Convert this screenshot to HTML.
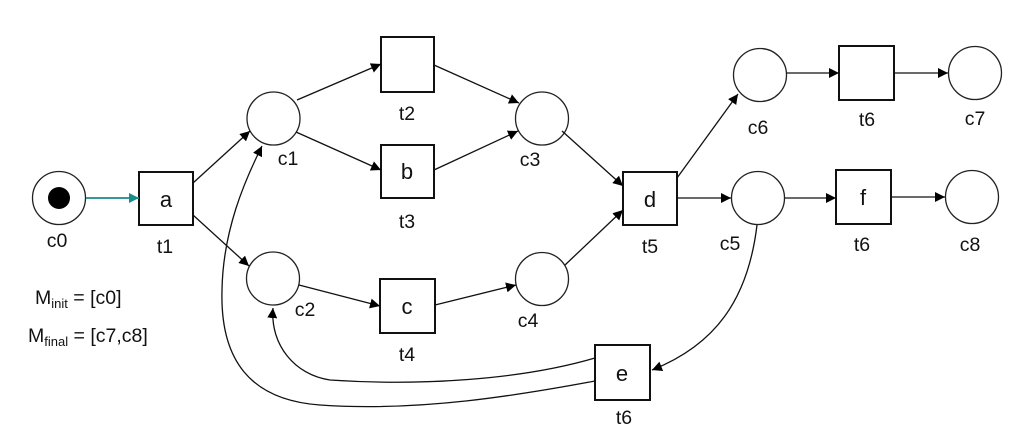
<!DOCTYPE html>
<html><head><meta charset="utf-8"><style>html,body{margin:0;padding:0;background:#fff}svg{display:block}</style></head><body>
<svg width="1017" height="428" viewBox="0 0 1017 428" xmlns="http://www.w3.org/2000/svg" font-family="Liberation Sans, sans-serif">
<defs>
<marker id="ar" viewBox="0 0 10 10" refX="10" refY="5" markerWidth="10" markerHeight="10" markerUnits="userSpaceOnUse" orient="auto"><path d="M0,0 L10,5 L0,10 z" fill="#000"/></marker>
<marker id="at" viewBox="0 0 10 10" refX="10" refY="5" markerWidth="10" markerHeight="10" markerUnits="userSpaceOnUse" orient="auto"><path d="M0,0 L10,5 L0,10 z" fill="#1a8a8a"/></marker>
</defs>
<g fill="#fff" stroke="#222" stroke-width="1.3">
<circle cx="59" cy="198" r="26.5"/>
<circle cx="273.5" cy="118.5" r="26.5"/>
<circle cx="273" cy="278.5" r="26.5"/>
<circle cx="542" cy="118.5" r="26.5"/>
<circle cx="542" cy="279" r="26.5"/>
<circle cx="760" cy="75" r="26.5"/>
<circle cx="758" cy="198" r="26.5"/>
<circle cx="975" cy="73" r="26.5"/>
<circle cx="972" cy="197" r="26.5"/>
</g>
<circle cx="59" cy="198" r="11" fill="#000"/>
<g fill="#fff" stroke="#111" stroke-width="2">
<rect x="139" y="172" width="54" height="53"/>
<rect x="381" y="37" width="53" height="55"/>
<rect x="381" y="145" width="53" height="53"/>
<rect x="380" y="279" width="55" height="54"/>
<rect x="623" y="172" width="54" height="53"/>
<rect x="839" y="46" width="55" height="54"/>
<rect x="836" y="170" width="55" height="54"/>
<rect x="595" y="345" width="55" height="55"/>
</g>
<line x1="86" y1="198" x2="139" y2="198" stroke="#1a8a8a" stroke-width="1.8" marker-end="url(#at)"/>
<g stroke="#111" stroke-width="1.3" fill="none" marker-end="url(#ar)">
<line x1="193" y1="183" x2="250" y2="131"/>
<line x1="193" y1="215" x2="249" y2="266"/>
<line x1="297" y1="100" x2="381" y2="64"/>
<line x1="296" y1="132" x2="381" y2="170"/>
<line x1="434" y1="65" x2="519" y2="103"/>
<line x1="434" y1="170" x2="518" y2="131"/>
<line x1="299" y1="285" x2="380" y2="306"/>
<line x1="435" y1="305" x2="516" y2="285"/>
<line x1="562" y1="131" x2="623" y2="186"/>
<line x1="565" y1="265" x2="623" y2="210"/>
<line x1="677" y1="178" x2="738" y2="94"/>
<line x1="677" y1="198" x2="731" y2="198"/>
<line x1="787" y1="73" x2="839" y2="73"/>
<line x1="894" y1="73" x2="948" y2="73"/>
<line x1="785" y1="198" x2="836" y2="198"/>
<line x1="891" y1="197" x2="945" y2="197"/>
<path d="M757,225 C748,300 715,345 652,370"/>
<path d="M595,358 C520,380 420,386 330,380 C295,375 270,345 273,308"/>
<path d="M595,381 C520,395 420,412 320,405 C250,400 220,360 222,290 C223,230 245,180 262,146"/>
</g>
<g font-size="22" fill="#111" text-anchor="middle">
<text x="166" y="207">a</text>
<text x="407" y="179">b</text>
<text x="407" y="314">c</text>
<text x="650" y="207">d</text>
<text x="863" y="205">f</text>
<text x="622" y="381">e</text>
</g>
<g font-size="19.5" fill="#111" text-anchor="middle">
<text x="57" y="247">c0</text>
<text x="165" y="253">t1</text>
<text x="288" y="165">c1</text>
<text x="305" y="316">c2</text>
<text x="530" y="166">c3</text>
<text x="528" y="327">c4</text>
<text x="407" y="120">t2</text>
<text x="407" y="228">t3</text>
<text x="407" y="361">t4</text>
<text x="650" y="253">t5</text>
<text x="758" y="134">c6</text>
<text x="867" y="126">t6</text>
<text x="975" y="125">c7</text>
<text x="730" y="250">c5</text>
<text x="862" y="251">t6</text>
<text x="970" y="251">c8</text>
<text x="624" y="424">t6</text>
</g>
<g font-size="19.5" fill="#111">
<text x="35" y="304">M<tspan font-size="13" dy="4">init</tspan><tspan dy="-4"> = [c0]</tspan></text>
<text x="28" y="342">M<tspan font-size="13" dy="4">final</tspan><tspan dy="-4"> = [c7,c8]</tspan></text>
</g>
</svg>
</body></html>
